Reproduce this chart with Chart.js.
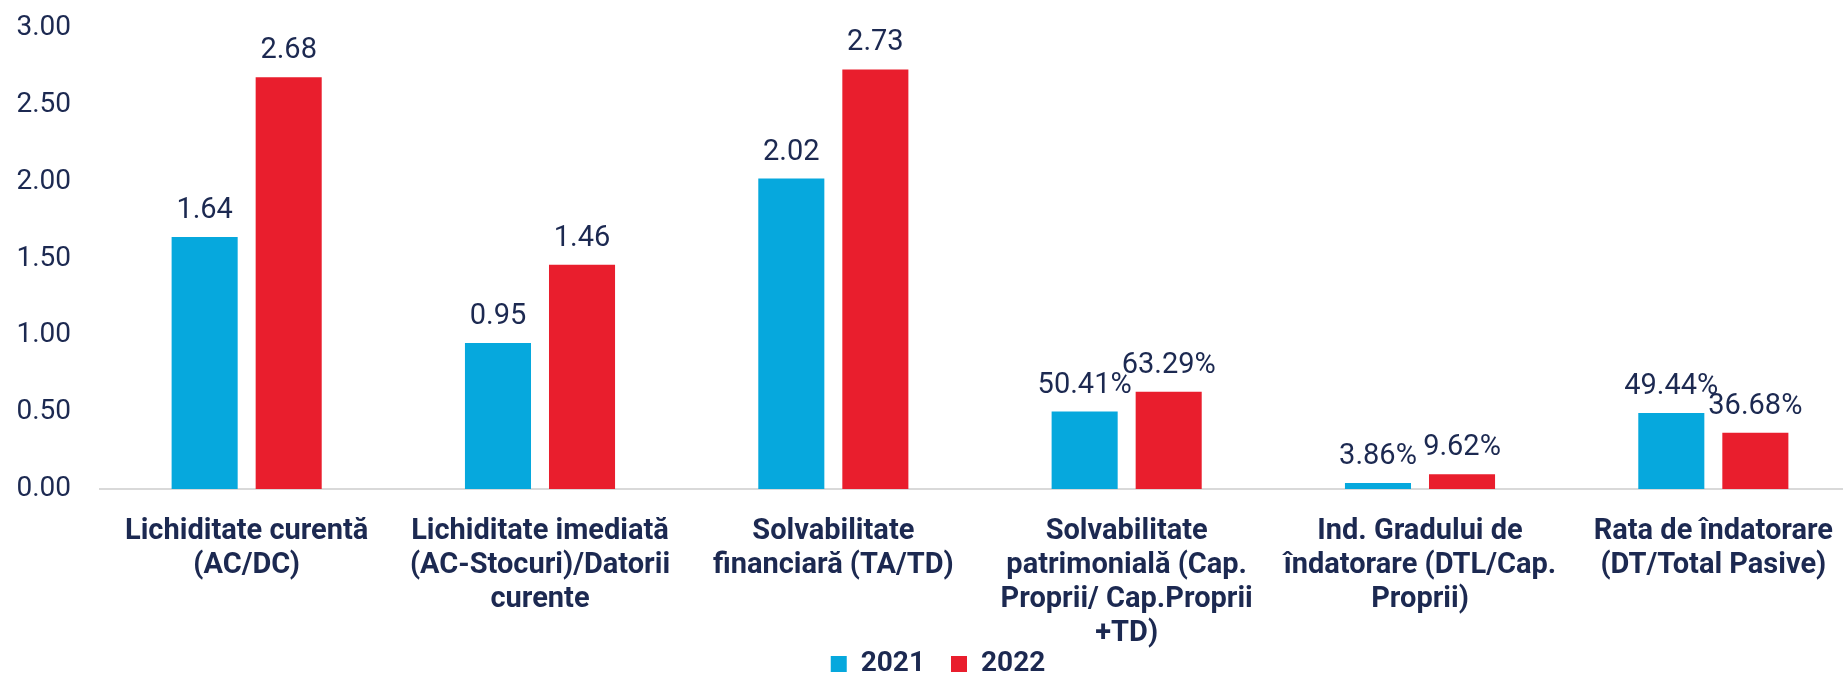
<!DOCTYPE html>
<html>
<head>
<meta charset="utf-8">
<script src="https://cdn.jsdelivr.net/npm/chart.js@4/dist/chart.umd.min.js"></script>
<style>
  html, body { margin: 0; padding: 0; background: #fff; overflow: hidden; }
</style>
</head>
<body>
<canvas id="myChart" width="1860" height="676"></canvas>
<script>
// categorii (etichete pe mai multe randuri)
var categories = [
  ['Lichiditate curentă', '(AC/DC)'],
  ['Lichiditate imediată', '(AC-Stocuri)/Datorii', 'curente'],
  ['Solvabilitate', 'financiară (TA/TD)'],
  ['Solvabilitate', 'patrimonială (Cap.', 'Proprii/ Cap.Proprii', '+TD)'],
  ['Ind. Gradului de', 'îndatorare (DTL/Cap.', 'Proprii)'],
  ['Rata de îndatorare', '(DT/Total Pasive)']
];

// valori (procentele sunt pastrate ca fractii)
var values2021 = [1.64, 0.95, 2.02, 0.5041, 0.0386, 0.4944];
var values2022 = [2.68, 1.46, 2.73, 0.6329, 0.0962, 0.3668];

// cum se afiseaza fiecare categorie: numar sau procent
var labelFormats = ['num', 'num', 'num', 'pct', 'pct', 'pct'];

var yTicks = [0, 0.5, 1, 1.5, 2, 2.5, 3];

var navy = '#1c2951';

function formatValue(v, i) {
  if (labelFormats[i] === 'pct') return (v * 100).toFixed(2) + '%';
  return v.toFixed(2);
}

// etichete deasupra barelor
var valueLabels = {
  id: 'valueLabels',
  afterLayout: function (chart) {
    // etichetele axei x nu se taie la marginea axei
    chart.scales.x.bottom = chart.height;
  },
  afterDatasetsDraw: function (chart) {
    var ctx = chart.ctx;
    ctx.save();
    ctx.font = '29px Roboto';
    ctx.fillStyle = navy;
    ctx.textAlign = 'center';
    ctx.textBaseline = 'alphabetic';
    chart.data.datasets.forEach(function (ds, di) {
      var meta = chart.getDatasetMeta(di);
      meta.data.forEach(function (bar, i) {
        ctx.fillText(formatValue(ds.data[i], i), bar.x, bar.y - 19);
      });
    });
    ctx.restore();
  }
};

var ctx = document.getElementById('myChart').getContext('2d');

var myChart = new Chart(ctx, {
  type: 'bar',
  data: {
    labels: categories,
    datasets: [{
      label: '2021',
      data: values2021,
      backgroundColor: '#06a8dd',
      barPercentage: 0.786,
      categoryPercentage: 0.573
    }, {
      label: '2022',
      data: values2022,
      backgroundColor: '#e91e2d',
      barPercentage: 0.786,
      categoryPercentage: 0.573
    }]
  },
  options: {
    responsive: false,
    animation: false,
    layout: {
      padding: { top: 28, left: 16, right: 0, bottom: -12 }
    },
    plugins: {
      legend: {
        position: 'bottom',
        labels: {
          color: navy,
          font: { family: 'Roboto', size: 28, weight: 'bold' },
          boxWidth: 16,
          boxHeight: 16,
          padding: 26
        }
      },
      tooltip: { enabled: false }
    },
    scales: {
      x: {
        grid: { display: false, drawTicks: false },
        border: { display: true, color: '#d9d9d9', width: 2 },
        ticks: {
          color: navy,
          font: { family: 'Roboto', size: 29, weight: 'bold', lineHeight: '34px' },
          padding: 26,
          autoSkip: false,
          maxRotation: 0,
          minRotation: 0
        },
        afterFit: function (scale) {
          scale.height = 135;
          scale.paddingTop = 0;
          scale.paddingBottom = 0;
        }
      },
      y: {
        min: 0,
        max: 3,
        grid: { display: false, drawTicks: false },
        border: { display: false },
        afterBuildTicks: function (scale) {
          scale.ticks = yTicks.map(function (v) { return { value: v }; });
        },
        ticks: {
          color: navy,
          font: { family: 'Roboto', size: 28 },
          padding: 29,
          callback: function (v) { return Number(v).toFixed(2); }
        },
        afterFit: function (scale) {
          scale.width = 84;
          scale.paddingTop = 0;
          scale.paddingBottom = 0;
        }
      }
    }
  },
  plugins: [valueLabels]
});
</script>
</body>
</html>
